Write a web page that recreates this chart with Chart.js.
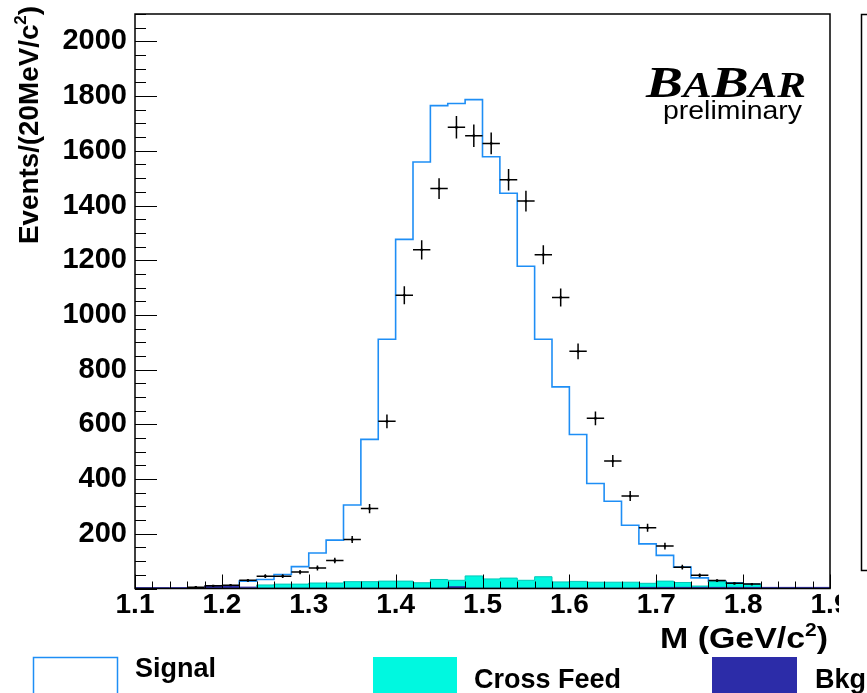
<!DOCTYPE html>
<html>
<head>
<meta charset="utf-8">
<script src="https://cdn.jsdelivr.net/npm/chart.js@4.4.0/dist/chart.umd.min.js"></script>
<style>
  body { margin: 0; background: #fff; }
  canvas { display: block; }
</style>
</head>
<body>
<canvas id="chart" width="867" height="693"></canvas>
<script>
// binning : 20 MeV bins
const binWidth = 0.02;
const xMin = 1.1, xMax = 1.9;
const yMax = 2100;

// heights as drawn in the stack (signal+cross feed+bkg / cross feed+bkg / bkg)
const signalFirstBin = 1.20;
const signalTotal = [10, 27, 33, 51, 80, 130, 177, 305, 545, 911,
  1276, 1559, 1765, 1773, 1787, 1578, 1445, 1178, 911, 737,
  563, 384, 319, 231, 163, 121, 78, 39, 27, 21, 15];

const crossFeedFirstBin = 1.24;
const crossFeed = [13, 16, 16, 20, 20, 25, 25, 27,
  27, 21, 33, 30, 46, 35, 38, 30, 43, 24,
  26, 23, 23, 23, 19, 27, 22, 9, 25, 19, 15];

const bkgFirstBin = 1.10;
const bkg = [3, 3, 3, 3, 8, 8, 5,
  1, 1, 1, 1, 1, 1, 1, 1, 1, 1, 1,
  6,
  1, 1, 1, 1, 1, 1, 1, 1, 1, 1,
  4, 4, 4, 4, 4, 4, 4, 4, 4, 4, 4];

// data points (bin centres) with their errors
const dataFirstCentre = 1.17;
const dataCounts = [5, 10, 12, 30, 45, 45, 60, 75, 102, 179,
  292, 611, 1072, 1238, 1462, 1686, 1655, 1627, 1494, 1416,
  1220, 1064, 867, 622, 466, 338, 222, 155, 78, 48, 29, 19, 16];
const dataErrors = [2, 3, 3, 5, 7, 7, 8, 9, 10, 13,
  17, 25, 33, 35, 38, 41, 41, 40, 39, 38,
  35, 33, 29, 25, 22, 18, 15, 12, 9, 7, 5, 4, 4];

const legendLabels = ['Signal', 'Cross Feed', 'Bkg'];

const blue = '#1e8ef5';
const cyan = '#00f8e0';
const navy = '#2c2ca8';
const sansBold = 'bold 27px "Liberation Sans", Arial, sans-serif';

// histogram -> points for a stepped line
function stepPoints(first, values) {
  let pts = [{x: first, y: 0}];
  values.forEach((v, i) => pts.push({x: first + i * binWidth, y: v}));
  pts.push({x: first + values.length * binWidth, y: 0});
  return pts;
}

let dataPoints = dataCounts.map((n, i) => ({x: dataFirstCentre + i * binWidth, y: n}));

// draw text squeezed/stretched to a given width
function runsText(ctx, runs, x, y, width) {
  let total = 0;
  runs.forEach(r => { ctx.font = r.font; r.w = ctx.measureText(r.t).width; total += r.w; });
  ctx.save();
  ctx.translate(x, y);
  ctx.scale(width / total, 1);
  let cx = 0;
  runs.forEach(r => {
    ctx.font = r.font;
    ctx.fillText(r.t, cx, r.dy || 0);
    cx += r.w;
  });
  ctx.restore();
}

// error bars of the data
const errorBars = {
  id: 'errorBars',
  afterDatasetsDraw(chart) {
    const {ctx, scales: {x, y}} = chart;
    ctx.save();
    ctx.strokeStyle = '#000';
    ctx.lineWidth = 1.5;
    ctx.beginPath();
    dataPoints.forEach((p, i) => {
      const px = x.getPixelForValue(p.x);
      const py = y.getPixelForValue(p.y);
      ctx.moveTo(x.getPixelForValue(p.x - binWidth / 2), py);
      ctx.lineTo(x.getPixelForValue(p.x + binWidth / 2), py);
      ctx.moveTo(px, y.getPixelForValue(p.y - dataErrors[i]));
      ctx.lineTo(px, y.getPixelForValue(p.y + dataErrors[i]));
    });
    ctx.stroke();
    ctx.restore();
  }
};

// frame + inner ticks like ROOT
const frameTicks = {
  id: 'frameTicks',
  afterDatasetsDraw(chart) {
    const {ctx, chartArea: a, scales: {x, y}} = chart;
    ctx.save();
    ctx.strokeStyle = '#000';
    ctx.lineWidth = 1;
    ctx.beginPath();
    for (let v = 0; v <= yMax; v += 50) {
      const py = Math.round(y.getPixelForValue(v)) + 0.5;
      const len = v % 200 === 0 ? 22 : 11;
      ctx.moveTo(a.left, py);
      ctx.lineTo(a.left + len, py);
    }
    for (let i = 0; i <= 40; i++) {
      const px = Math.round(x.getPixelForValue(xMin + i * 0.02)) + 0.5;
      const len = i % 5 === 0 ? 14 : 7;
      ctx.moveTo(px, a.bottom);
      ctx.lineTo(px, a.bottom - len);
    }
    ctx.stroke();
    ctx.lineWidth = 1.5;
    ctx.strokeRect(a.left, a.top, a.right - a.left, a.bottom - a.top);
    ctx.restore();
  }
};

// titles, logo, legend
const decorations = {
  id: 'decorations',
  afterDraw(chart) {
    const ctx = chart.ctx;
    ctx.save();
    ctx.fillStyle = '#000';
    ctx.textBaseline = 'alphabetic';
    ctx.textAlign = 'left';

    // "1.9" is cut by the pad edge
    ctx.fillStyle = '#fff';
    ctx.fillRect(839, 591, 20, 34);
    ctx.fillStyle = '#000';

    // neighbouring pad frame
    ctx.lineWidth = 1.5;
    ctx.beginPath();
    ctx.moveTo(867, 14.5); ctx.lineTo(861.5, 14.5); ctx.lineTo(861.5, 570.5); ctx.lineTo(867, 570.5);
    ctx.stroke();

    // x title
    const tBold = 'bold 29px "Liberation Sans", Arial, sans-serif';
    const tSup = 'bold 18px "Liberation Sans", Arial, sans-serif';
    runsText(ctx, [{t: 'M (GeV/c', font: tBold}, {t: '2', font: tSup, dy: -12}, {t: ')', font: tBold}], 660, 648, 168);

    // y title
    ctx.save();
    ctx.translate(38, 244);
    ctx.rotate(-Math.PI / 2);
    runsText(ctx, [{t: 'Events/(20MeV/c', font: 'bold 28px "Liberation Sans", Arial, sans-serif'},
      {t: '2', font: 'bold 17px "Liberation Sans", Arial, sans-serif', dy: -12},
      {t: ')', font: 'bold 28px "Liberation Sans", Arial, sans-serif'}], 0, 0, 238);
    ctx.restore();

    // BaBar logo
    const big = 'italic bold 45px "Liberation Serif", "Times New Roman", serif';
    const small = 'italic bold 35px "Liberation Serif", "Times New Roman", serif';
    runsText(ctx, [{t: 'B', font: big}, {t: 'A', font: small}, {t: 'B', font: big},
      {t: 'A', font: small}, {t: 'R', font: small}], 646, 97, 160);
    runsText(ctx, [{t: 'preliminary', font: '25px "Liberation Sans", Arial, sans-serif'}], 663, 119, 139);

    // legend
    ctx.lineWidth = 1.5;
    ctx.strokeStyle = blue;
    ctx.strokeRect(33.5, 657.5, 84, 40);
    ctx.fillStyle = cyan;
    ctx.fillRect(373, 657, 84, 40);
    ctx.fillStyle = navy;
    ctx.fillRect(712, 657, 85, 40);
    ctx.fillStyle = '#000';
    ctx.font = sansBold;
    ctx.fillText(legendLabels[0], 135, 677);
    ctx.fillText(legendLabels[1], 474, 688);
    ctx.fillText(legendLabels[2], 815, 688);
    ctx.restore();
  }
};

let chart = new Chart(document.getElementById('chart'), {
  type: 'line',
  data: {
    datasets: [
      {
        label: 'Data',
        data: dataPoints,
        showLine: false,
        pointStyle: 'rect',
        pointRadius: 1.6,
        pointBackgroundColor: '#000',
        pointBorderWidth: 0,
        order: 0
      },
      {
        label: legendLabels[2],
        data: stepPoints(bkgFirstBin, bkg),
        stepped: true,
        borderColor: navy,
        borderWidth: 1,
        backgroundColor: navy,
        fill: 'origin',
        pointRadius: 0,
        order: 1
      },
      {
        label: legendLabels[1],
        data: stepPoints(crossFeedFirstBin, crossFeed),
        stepped: true,
        borderColor: '#00c8b8',
        borderWidth: 1,
        backgroundColor: cyan,
        fill: 'origin',
        pointRadius: 0,
        order: 2
      },
      {
        label: legendLabels[0],
        data: stepPoints(signalFirstBin, signalTotal),
        stepped: true,
        borderColor: blue,
        borderWidth: 1.6,
        fill: false,
        pointRadius: 0,
        order: 3
      }
    ]
  },
  options: {
    responsive: false,
    devicePixelRatio: 1,
    animation: false,
    layout: { padding: { top: 14, right: 37, left: 0, bottom: 0 } },
    plugins: {
      legend: { display: false },
      tooltip: { enabled: false }
    },
    scales: {
      x: {
        type: 'linear',
        min: xMin,
        max: xMax,
        grid: { display: false, drawTicks: false },
        border: { display: false },
        ticks: {
          stepSize: 0.1,
          autoSkip: false,
          maxRotation: 0,
          padding: 0,
          color: '#000',
          font: { family: '"Liberation Sans", Arial, sans-serif', size: 28, weight: 'bold' },
          callback: (v) => Number(v).toFixed(1)
        },
        afterFit: (scale) => { scale.height = 104.5; scale.paddingLeft = 0; scale.paddingRight = 0; }
      },
      y: {
        min: 0,
        max: yMax,
        grid: { display: false, drawTicks: false },
        border: { display: false },
        ticks: {
          stepSize: 200,
          includeBounds: false,
          autoSkip: false,
          padding: 8,
          color: '#000',
          font: { family: '"Liberation Sans", Arial, sans-serif', size: 29, weight: 'bold' },
          callback: (v) => v === 0 ? '' : String(v)
        },
        afterFit: (scale) => { scale.width = 135; scale.paddingTop = 0; scale.paddingBottom = 0; }
      }
    }
  },
  plugins: [errorBars, frameTicks, decorations]
});
</script>
</body>
</html>
